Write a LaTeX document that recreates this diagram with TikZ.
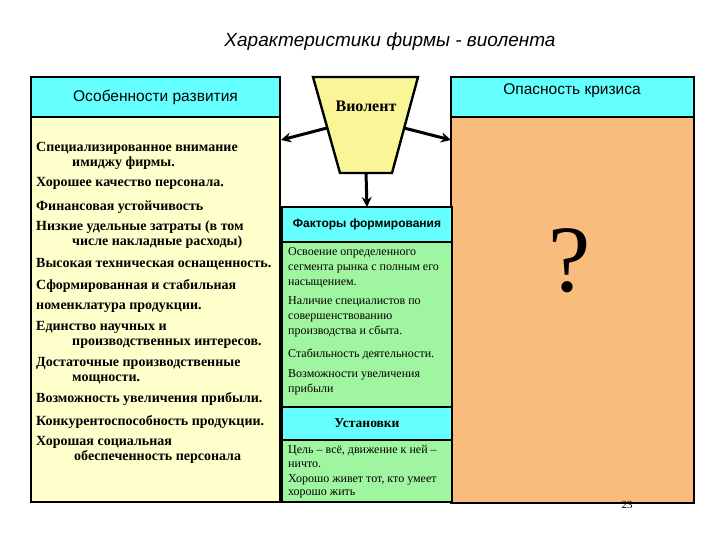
\documentclass[tikz,border=0pt]{standalone}
\usepackage{fontspec}
\setmainfont{Liberation Serif}
\setsansfont{Liberation Sans}
\usetikzlibrary{arrows.meta}
\definecolor{hcyan}{RGB}{102,255,255}
\definecolor{lyel}{RGB}{255,255,204}
\definecolor{tyel}{RGB}{250,245,150}
\definecolor{lgreen}{RGB}{160,245,160}
\definecolor{orng}{RGB}{250,188,124}
\begin{document}
\begin{tikzpicture}[x=1pt,y=-1pt,
  box/.style={draw=black, line width=2.4pt, inner sep=0pt, outer sep=0pt, anchor=north west},
  ltext/.style={font=\bfseries\fontsize{14}{15}\selectfont, anchor=west, align=left, inner sep=0pt},
  mtext/.style={font=\fontsize{12}{15}\selectfont, anchor=west, align=left, inner sep=0pt},
  arr/.style={-{Stealth[length=10pt,width=10pt]}, line width=3pt}]
\useasboundingbox (0,0) rectangle (720,540);
\fill[white] (0,0) rectangle (720,540);
% title
\node[font=\sffamily\itshape\fontsize{19}{22}\selectfont] (title) at (390,42) {Характеристики фирмы - виолента};
% left panel
\node[box, fill=lyel, minimum width=249pt, minimum height=425pt] (lp) at (31,77) {};
\node[box, fill=hcyan, minimum width=249pt, minimum height=40pt, font=\sffamily\fontsize{15.5}{18}\selectfont] (lh) at (31,77) {Особенности развития};
% right panel
\node[box, fill=orng, minimum width=243pt, minimum height=426pt] (rp) at (451,77) {};
\node[box, fill=hcyan, minimum width=243pt, minimum height=40pt] (rh) at (451,77) {};
\node[font=\sffamily\fontsize{15.5}{18}\selectfont] (rht) at (572,91) {Опасность кризиса};
\node[font=\fontsize{95}{95}\selectfont] (q) at (570,261) {?};
% middle column
\node[box, fill=lgreen, minimum width=170pt, minimum height=295pt] (mp) at (282,207) {};
\node[box, fill=hcyan, minimum width=170pt, minimum height=35pt, font=\sffamily\bfseries\fontsize{12}{14}\selectfont] (mh) at (282,207) {Факторы формирования};
\node[box, fill=hcyan, minimum width=170pt, minimum height=33pt, font=\bfseries\fontsize{13.5}{15}\selectfont] (uh) at (282,407) {Установки};
% trapezoid
\draw[line width=2.4pt, fill=tyel] (313,77) -- (418,77) -- (392,173) -- (340,173) -- cycle;
\node[font=\bfseries\fontsize{16}{18}\selectfont] (viol) at (366,106) {Виолент};
\coordinate (vl) at (327,128);
\coordinate (vr) at (404,128);
\coordinate (vb) at (366,173);
\coordinate (la) at (281,140);
\coordinate (ra) at (451,140);
\draw[arr] (vl) -- (la);
\draw[arr] (vr) -- (ra);
\draw[arr] (vb) -- (mh.north);
% left texts
\node[ltext] (l1) at (36,155.5) {Специализированное внимание\\\hspace*{36pt}имиджу фирмы.};
\node[ltext] (l2) at (36,183) {Хорошее качество персонала.};
\node[ltext] (l3) at (36,207) {Финансовая устойчивость};
\node[ltext] (l4) at (36,235) {Низкие удельные затраты (в том\\\hspace*{36pt}числе накладные расходы)};
\node[ltext] (l5) at (36,264) {Высокая техническая оснащенность.};
\node[ltext] (l6) at (36,286) {Сформированная и стабильная};
\node[ltext] (l7) at (36,308) {номенклатура продукции.};
\node[ltext] (l8) at (36,335) {Единство научных и\\\hspace*{36pt}производственных интересов.};
\node[ltext] (l9) at (36,371) {Достаточные производственные\\\hspace*{36pt}мощности.};
\node[ltext] (l10) at (36,399) {Возможность увеличения прибыли.};
\node[ltext] (l11) at (36,422) {Конкурентоспособность продукции.};
\node[ltext] (l12) at (36,450) {Хорошая социальная\\\hspace*{38pt}обеспеченность персонала};
% middle texts
\node[mtext] (m1) at (288,268) {Освоение определенного\\сегмента рынка с полным его\\насыщением.};
\node[mtext] (m2) at (288,317) {Наличие специалистов по\\совершенствованию\\производства и сбыта.};
\node[mtext] (m3) at (288,354) {Стабильность деятельности.};
\node[mtext] (m4) at (288,382.5) {Возможности увеличения\\прибыли};
\node[mtext, font=\fontsize{12}{14}\selectfont] (m5) at (288,456) {Цель – всё, движение к ней –\\ничто.};
\node[mtext, font=\fontsize{12}{13}\selectfont] (m6) at (288,486) {Хорошо живет тот, кто умеет\\хорошо жить};
% page number
\node[font=\fontsize{11}{12}\selectfont, text=black] (pg) at (627,505) {23};
\end{tikzpicture}
\end{document}
